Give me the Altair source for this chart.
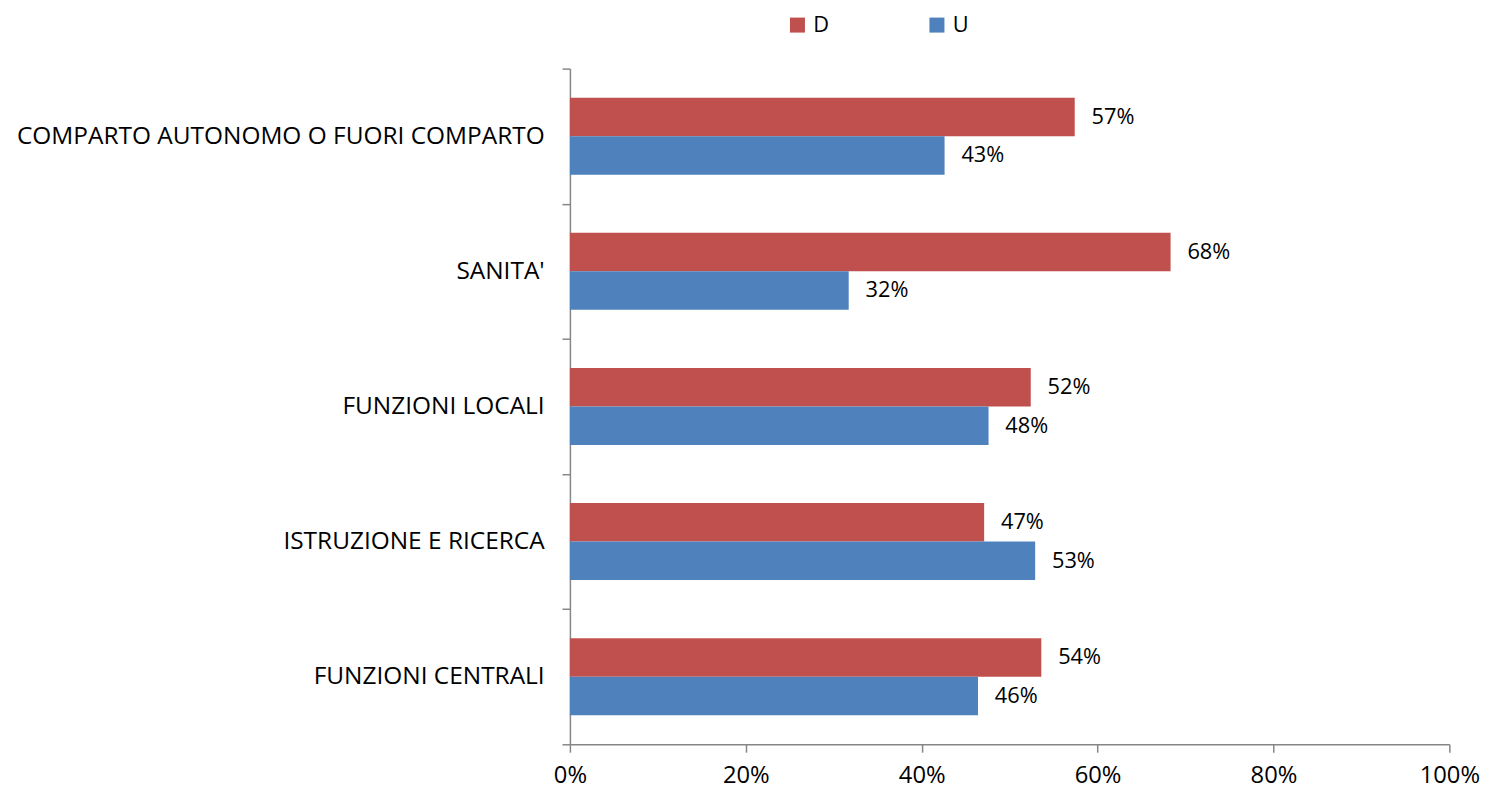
import altair as alt
import pandas as pd

categories = ["COMPARTO AUTONOMO O FUORI COMPARTO", "SANITA'", "FUNZIONI LOCALI",
              "ISTRUZIONE E RICERCA", "FUNZIONI CENTRALI"]
series = ["D", "U"]
d_values = [0.574, 0.683, 0.524, 0.471, 0.536]
u_values = [0.426, 0.317, 0.476, 0.529, 0.464]
colors = ["#C0504D", "#4F81BD"]

rows = []
for c, d, u in zip(categories, d_values, u_values):
    rows.append({"cat": c, "serie": "D", "val": d})
    rows.append({"cat": c, "serie": "U", "val": u})
df = pd.DataFrame(rows)

FONT = "Open Sans"

y_enc = alt.Y("cat:N", sort=categories, title=None,
              scale=alt.Scale(paddingInner=0, paddingOuter=0),
              axis=alt.Axis(tickBand="extent", labelFontSize=24.7, labelFont=FONT,
                            labelColor="black", labelPadding=18, tickSize=8,
                            domainColor="#868686", tickColor="#868686",
                            labelLimit=700, domainWidth=1.5, tickWidth=1.5))
yoff = alt.YOffset("serie:N", sort=series,
                   scale=alt.Scale(paddingInner=0, paddingOuter=0.756))
x_enc = alt.X("val:Q", title=None,
              scale=alt.Scale(domain=[0, 1], nice=False),
              axis=alt.Axis(format=".0%", values=[0, 0.2, 0.4, 0.6, 0.8, 1.0], grid=False,
                            labelFontSize=24, labelFont=FONT, labelColor="black",
                            labelFlush=False, labelPadding=12, tickSize=8,
                            domainColor="#868686", tickColor="#868686",
                            domainWidth=1.5, tickWidth=1.5))

bars = alt.Chart(df).mark_bar().encode(
    y=y_enc, yOffset=yoff, x=x_enc,
    color=alt.Color("serie:N", sort=series,
                    scale=alt.Scale(domain=series, range=colors),
                    legend=alt.Legend(title=None, orient="none", legendX=219, legendY=-55,
                                      direction="horizontal", symbolType="square",
                                      symbolSize=230, symbolStrokeWidth=0,
                                      labelFontSize=22, labelFont=FONT, labelColor="black",
                                      labelOffset=5, columnPadding=98))
)

labels = alt.Chart(df).mark_text(align="left", baseline="middle", dx=17,
                                 fontSize=22, font=FONT, color="black").encode(
    y=alt.Y("cat:N", sort=categories), yOffset=yoff, x=alt.X("val:Q"),
    text=alt.Text("val:Q", format=".0%")
)

chart = (bars + labels).properties(
    width=889, height=683,
    padding={"left": 8, "top": 2, "right": 5, "bottom": 5}
).configure_view(stroke=None)

chart.save("out.html", embed_options={"renderer": "svg", "actions": False})
